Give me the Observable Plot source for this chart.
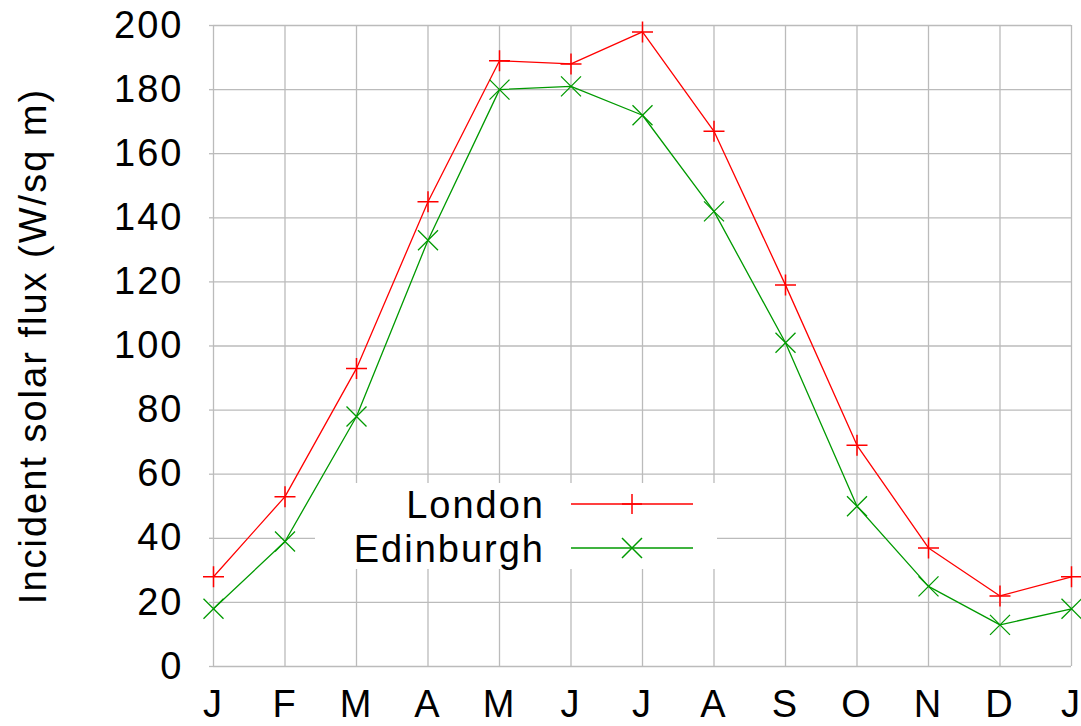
<!DOCTYPE html>
<html>
<head>
<meta charset="utf-8">
<script src="https://cdn.jsdelivr.net/npm/d3@7"></script>
<script src="https://cdn.jsdelivr.net/npm/@observablehq/plot@0.6"></script>
<style>
  html, body { margin: 0; padding: 0; background: #fff; }
  #wrap { position: relative; width: 1081px; height: 726px; }
</style>
</head>
<body>
<div id="wrap"></div>
<script>
// ---- data ----
const months = ["J", "F", "M", "A", "M", "J", "J", "A", "S", "O", "N", "D", "J"];
const london = [28, 53, 93, 145, 189, 188, 198, 167, 119, 69, 37, 22, 28];
const edinburgh = [18, 39, 78, 133, 180, 181, 172, 142, 101, 50, 25, 13, 18];
const yTicks = [0, 20, 40, 60, 80, 100, 120, 140, 160, 180, 200];
const seriesNames = ["London", "Edinburgh"];
const seriesColors = ["#ff0000", "#009a00"];
const yLabel = "Incident solar flux (W/sq m)";

// ---- custom line symbols ----
const plusSym = {
  draw(c, size) {
    const r = Math.sqrt(size / Math.PI);
    c.moveTo(-r, 0); c.lineTo(r, 0);
    c.moveTo(0, -r); c.lineTo(0, r);
  }
};
const timesSym = {
  draw(c, size) {
    const r = Math.sqrt(size / Math.PI);
    c.moveTo(-r, -r); c.lineTo(r, r);
    c.moveTo(-r, r); c.lineTo(r, -r);
  }
};

const monthIdx = months.map((_, i) => i);
const rows = [
  ...london.map((v, i) => ({ i, v, s: seriesNames[0] })),
  ...edinburgh.map((v, i) => ({ i, v, s: seriesNames[1] }))
];

const font = '"Liberation Sans", Arial, sans-serif';

// legend box (drawn over the grid, under the data lines), gnuplot style
function legendMark() {
  const g = d3.create("svg:g").attr("transform", "translate(315,483)");
  g.append("rect").attr("width", 402).attr("height", 86).attr("fill", "#fff");
  const rowY = [21, 65];
  const symPaths = [
    (cx, cy, r) => `M${cx - r},${cy}L${cx + r},${cy}M${cx},${cy - r}L${cx},${cy + r}`,
    (cx, cy, r) => `M${cx - r},${cy - r}L${cx + r},${cy + r}M${cx - r},${cy + r}L${cx + r},${cy - r}`
  ];
  seriesNames.forEach((name, k) => {
    g.append("text")
      .attr("x", 230).attr("y", rowY[k] + 14)
      .attr("text-anchor", "end")
      .attr("fill", "#000")
      .text(name);
    g.append("path")
      .attr("d", `M256,${rowY[k]}L378,${rowY[k]}`)
      .attr("stroke", seriesColors[k]).attr("stroke-width", 1.5);
    g.append("path")
      .attr("d", symPaths[k](317, rowY[k], 10))
      .attr("stroke", seriesColors[k]).attr("stroke-width", 1.5).attr("fill", "none");
  });
  return g.node();
}

const chart = Plot.plot({
  width: 1081,
  height: 726,
  marginLeft: 213,
  marginRight: 10,
  marginTop: 25,
  marginBottom: 60,
  style: { fontFamily: font, fontSize: "38px", letterSpacing: "2px", background: "#fff", color: "#000", overflow: "visible" },
  x: { domain: [0, 12] },
  y: { domain: [0, 200] },
  color: { domain: seriesNames, range: seriesColors },
  marks: [
    Plot.gridX(monthIdx, { stroke: "#bbbbbb", strokeOpacity: 1, strokeWidth: 1.3 }),
    Plot.gridY(yTicks, { stroke: "#bbbbbb", strokeOpacity: 1, strokeWidth: 1.3 }),
    Plot.axisY(yTicks, { tickSize: 4, stroke: "#bbbbbb", strokeWidth: 1.3, tickPadding: 26, label: null, fill: "#000" }),
    Plot.axisX(monthIdx, { tickSize: 0, tickPadding: 24, tickFormat: (i) => months[i], label: null, fill: "#000" }),
    legendMark,
    Plot.line(rows, { x: "i", y: "v", z: "s", stroke: "s", strokeWidth: 1.3 }),
    Plot.dot(rows.filter(d => d.s === seriesNames[0]), { x: "i", y: "v", stroke: "s", fill: "none", symbol: plusSym, r: 10.5, strokeWidth: 1.5 }),
    Plot.dot(rows.filter(d => d.s === seriesNames[1]), { x: "i", y: "v", stroke: "s", fill: "none", symbol: timesSym, r: 10, strokeWidth: 1.3 }),
    Plot.text([yLabel], { text: d => d, frameAnchor: "left", textAnchor: "middle", lineAnchor: "middle", rotate: -90, dx: -180, fill: "#000" })
  ]
});

document.getElementById("wrap").appendChild(chart);
</script>
</body>
</html>
